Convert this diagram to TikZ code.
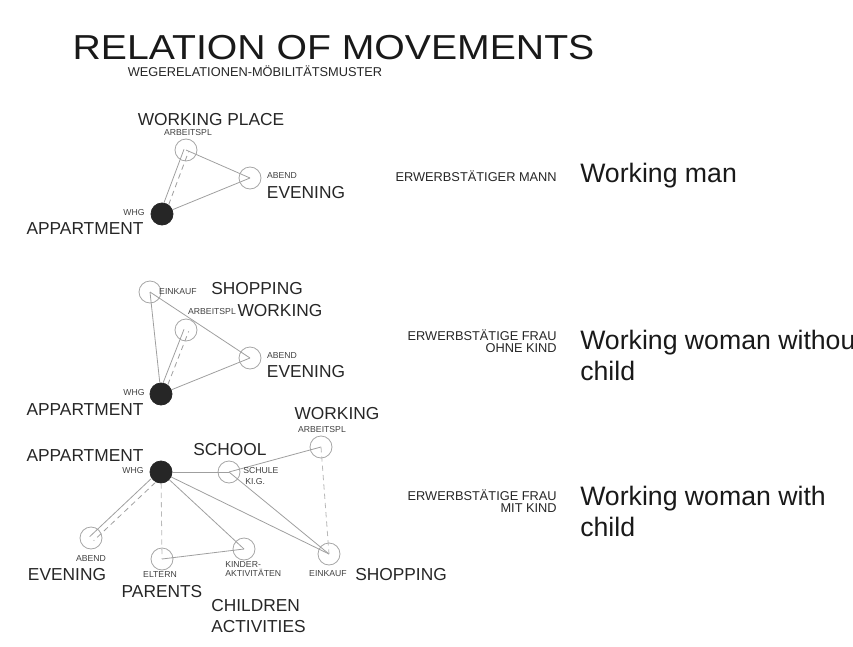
\documentclass[tikz,border=0pt]{standalone}
\usepackage{fontspec}
\setmainfont{Liberation Sans}
\usetikzlibrary{positioning}

\tikzset{
	spot/.style={circle, draw=gray!70, line width=0.6pt, minimum size=16.5pt, inner sep=0pt},
	homespot/.style={spot, draw=black!85, fill=black!85},
	bigtext/.style={font=\fontsize{13}{13}\selectfont, text=black!85, inner sep=0pt},
	minitext/.style={font=\fontsize{6.5}{6.5}\selectfont, text=black!75, inner sep=0pt},
	midtext/.style={font=\fontsize{9.6}{9.6}\selectfont, text=black!85, inner sep=0pt},
	casetext/.style={font=\fontsize{20}{20}\selectfont, text=black!90, inner sep=0pt, anchor=base west},
	trip/.style={draw=gray!75, line width=0.6pt},
	rare/.style={trip, dash pattern=on 4pt off 3pt},
}

\begin{document}
\begin{tikzpicture}[x=0.75pt, y=-0.75pt]
\useasboundingbox (0,0) rectangle (853,646);

\node[inner sep=0pt, font=\fontsize{26}{26}\selectfont, text=black!90] (head) at (333.5,48) {\scalebox{1.13}[1]{RELATION OF MOVEMENTS}};
\node[midtext] (subhead) at (255,71) {WEGERELATIONEN-MÖBILITÄTSMUSTER};

% working man
\node[homespot] (h1) at (162,214) {};
\node[spot] (w1) at (186,150) {};
\node[spot] (e1) at (250,178) {};
\path[trip] (w1.center) edge (e1.center)
	(h1) edge (e1.center);
\draw[trip, transform canvas={xshift=-1.5pt,yshift=0.5pt}] (h1) -- (w1.center);
\draw[rare, transform canvas={xshift=2pt,yshift=-1pt}] (h1) -- (w1.center);
\node[bigtext] (w1t) at (211,120) {WORKING PLACE};
\node[minitext] (w1s) at (188,133) {ARBEITSPL};
\node[minitext] (e1s) at (282,176) {ABEND};
\node[bigtext] (e1t) at (306,193) {EVENING};
\node[minitext] (h1s) at (134,213) {WHG};
\node[bigtext] (h1t) at (85,229) {APPARTMENT};

% working woman without child
\node[homespot] (h2) at (161,394) {};
\node[spot] (s2) at (150,292) {};
\node[spot] (w2) at (186,330) {};
\node[spot] (e2) at (250,358) {};
\path[trip] (s2.center) edge (e2.center)
	(h2) edge (s2.center)
	(h2) edge (e2.center);
\draw[trip, transform canvas={xshift=-1.5pt,yshift=0.5pt}] (h2) -- (w2.center);
\draw[rare, transform canvas={xshift=2pt,yshift=-1pt}] (h2) -- (w2.center);
\node[minitext] (s2s) at (178,292) {EINKAUF};
\node[bigtext] (s2t) at (257,289) {SHOPPING};
\node[minitext] (w2s) at (212,312) {ARBEITSPL};
\node[bigtext] (w2t) at (280,311) {WORKING};
\node[minitext] (e2s) at (282,356) {ABEND};
\node[bigtext] (e2t) at (306,372) {EVENING};
\node[minitext] (h2s) at (134,393) {WHG};
\node[bigtext] (h2t) at (85,410) {APPARTMENT};

% working woman with child
\node[homespot] (h3) at (161,472) {};
\node[spot] (k3) at (229,472) {};
\node[spot] (w3) at (321,447) {};
\node[spot] (e3) at (91,538) {};
\node[spot] (p3) at (162,559) {};
\node[spot] (c3) at (244,549) {};
\node[spot] (s3) at (329,554) {};
\path[trip] (h3) edge (k3.center)
	(k3.center) edge (w3.center)
	(h3) edge (c3.center)
	(h3) edge (s3.center)
	(k3.center) edge (s3.center)
	(p3.center) edge (c3.center);
\draw[trip, transform canvas={xshift=-1pt,yshift=1pt}] (h3) -- (e3.center);
\draw[rare, transform canvas={xshift=2pt,yshift=-2pt}] (h3) -- (e3.center);
\path[rare, draw=gray!55] (h3) edge (p3.center)
	(w3.center) edge (s3.center);
\node[bigtext] (h3t) at (85,456) {APPARTMENT};
\node[minitext] (h3s) at (133,471) {WHG};
\node[bigtext] (k3t) at (230,450) {SCHOOL};
\node[minitext, anchor=west] (k3s) at (243,471) {SCHULE};
\node[minitext, anchor=west] (k3u) at (245,482) {KI.G.};
\node[bigtext] (w3t) at (337,414) {WORKING};
\node[minitext] (w3s) at (322,430) {ARBEITSPL};
\node[minitext] (e3s) at (91,559) {ABEND};
\node[bigtext] (e3t) at (67,575) {EVENING};
\node[minitext] (p3s) at (160,575) {ELTERN};
\node[bigtext] (p3t) at (162,592) {PARENTS};
\node[minitext, anchor=west] (c3s) at (225,565) {KINDER-};
\node[minitext, anchor=west] (c3u) at (225,573) {AKTIVITÄTEN};
\node[bigtext, anchor=west] (c3t) at (211,606) {CHILDREN};
\node[bigtext, anchor=west] (c3v) at (211,627) {ACTIVITIES};
\node[minitext] (s3s) at (328,574) {EINKAUF};
\node[bigtext] (s3t) at (401,575) {SHOPPING};

% case names
\node[midtext, anchor=east] (man) at (557,176) {ERWERBSTÄTIGER MANN};
\node[casetext] (manen) at (580,182) {Working man};
\node[midtext, anchor=base east] (frau) at (557,340) {ERWERBSTÄTIGE FRAU};
\node[midtext, anchor=base east] (frauo) at (557,352) {OHNE KIND};
\node[casetext] (frauen) at (580,349) {Working woman without};
\node[casetext] (frauenb) at (580,380) {child};
\node[midtext, anchor=base east] (mutter) at (557,500) {ERWERBSTÄTIGE FRAU};
\node[midtext, anchor=base east] (mutterm) at (557,512) {MIT KIND};
\node[casetext] (mutteren) at (580,505) {Working woman with};
\node[casetext] (mutterenb) at (580,536) {child};
\end{tikzpicture}
\end{document}
